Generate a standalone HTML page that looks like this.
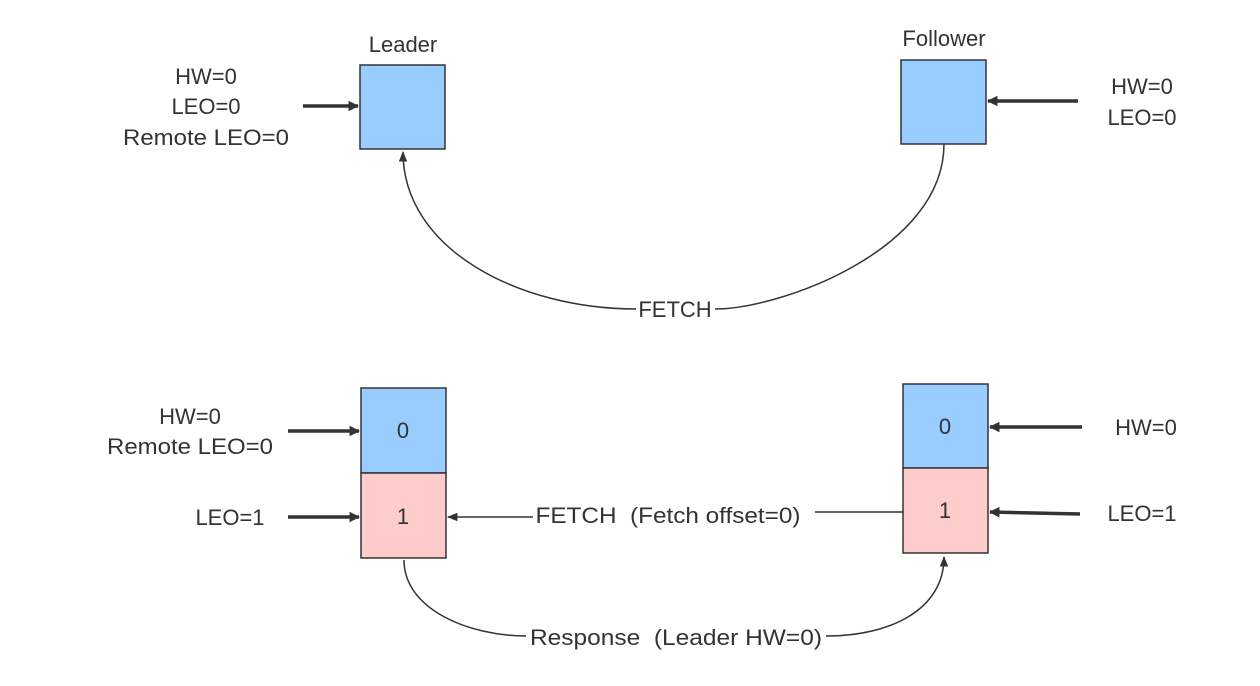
<!DOCTYPE html>
<html><head><meta charset="utf-8"><style>
html,body{margin:0;padding:0;background:#fff;}
svg{display:block;}
text{font-family:"Liberation Sans","Noto Sans CJK SC",sans-serif;font-size:22px;fill:#333;text-anchor:middle;white-space:pre;}
</style></head><body>
<svg width="1260" height="686" viewBox="0 0 1260 686">
<defs>
<marker id="ah" viewBox="0 0 10 10" refX="9" refY="5" markerWidth="7" markerHeight="7" orient="auto"><path d="M0,1 L10,5 L0,9 z" fill="#333"/></marker>
<marker id="ahs" viewBox="0 0 10 10" refX="9" refY="5" markerWidth="3" markerHeight="3" orient="auto"><path d="M0,0 L10,5 L0,10 z" fill="#333"/></marker>
</defs>

<text x="403" y="52">Leader</text>
<rect x="360" y="65" width="85" height="84" fill="#99ccff" stroke="#333" stroke-width="1.5"/>
<text x="944" y="46">Follower</text>
<rect x="901" y="60" width="85" height="84" fill="#99ccff" stroke="#333" stroke-width="1.5"/>

<g>
<text x="206" y="84">HW=0</text><text x="206" y="114">LEO=0</text><text x="206" y="145" textLength="166" lengthAdjust="spacingAndGlyphs">Remote LEO=0</text></g>
<line x1="303" y1="106" x2="358" y2="106" stroke="#333" stroke-width="3.5" marker-end="url(#ahs)"/>
<g>
<text x="1142" y="94">HW=0</text><text x="1142" y="125">LEO=0</text></g>
<line x1="1078" y1="101" x2="988" y2="101" stroke="#333" stroke-width="3.5" marker-end="url(#ahs)"/>

<path d="M944,144 C944,250 780,309 715,309 M636,309 C520,309 403,250 403,152" fill="none" stroke="#333" stroke-width="1.5" marker-end="url(#ah)"/>
<text x="675" y="317">FETCH</text>

<rect x="361" y="388" width="85" height="85" fill="#99ccff" stroke="#333" stroke-width="1.5"/>
<rect x="361" y="473" width="85" height="85" fill="#ffcccc" stroke="#333" stroke-width="1.5"/>
<text x="403" y="438">0</text><text x="403" y="524">1</text>
<rect x="903" y="384" width="85" height="84" fill="#99ccff" stroke="#333" stroke-width="1.5"/>
<rect x="903" y="468" width="85" height="85" fill="#ffcccc" stroke="#333" stroke-width="1.5"/>
<text x="945" y="434">0</text><text x="945" y="518">1</text>

<g>
<text x="190" y="424">HW=0</text><text x="190" y="454" textLength="166" lengthAdjust="spacingAndGlyphs">Remote LEO=0</text><text x="230" y="525">LEO=1</text></g>
<line x1="288" y1="431" x2="359" y2="431" stroke="#333" stroke-width="3.5" marker-end="url(#ahs)"/>
<line x1="288" y1="517" x2="359" y2="517" stroke="#333" stroke-width="3.5" marker-end="url(#ahs)"/>
<g>
<text x="1146" y="435">HW=0</text><text x="1142" y="521">LEO=1</text></g>
<line x1="1082" y1="427" x2="990" y2="427" stroke="#333" stroke-width="3.5" marker-end="url(#ahs)"/>
<line x1="1080" y1="514" x2="990" y2="512" stroke="#333" stroke-width="3.5" marker-end="url(#ahs)"/>

<line x1="903" y1="512" x2="815" y2="512" stroke="#333" stroke-width="1.5"/>
<line x1="533" y1="517" x2="448" y2="517" stroke="#333" stroke-width="1.5" marker-end="url(#ah)"/>
<text x="668" y="523" textLength="265" lengthAdjust="spacingAndGlyphs">FETCH  (Fetch offset=0)</text>

<path d="M404,560 C404,610 470,636 526,636 M826,636 C890,636 944,610 944,557" fill="none" stroke="#333" stroke-width="1.5" marker-end="url(#ah)"/>
<text x="676" y="645" textLength="292" lengthAdjust="spacingAndGlyphs">Response  (Leader HW=0)</text>
</svg>
</body></html>
